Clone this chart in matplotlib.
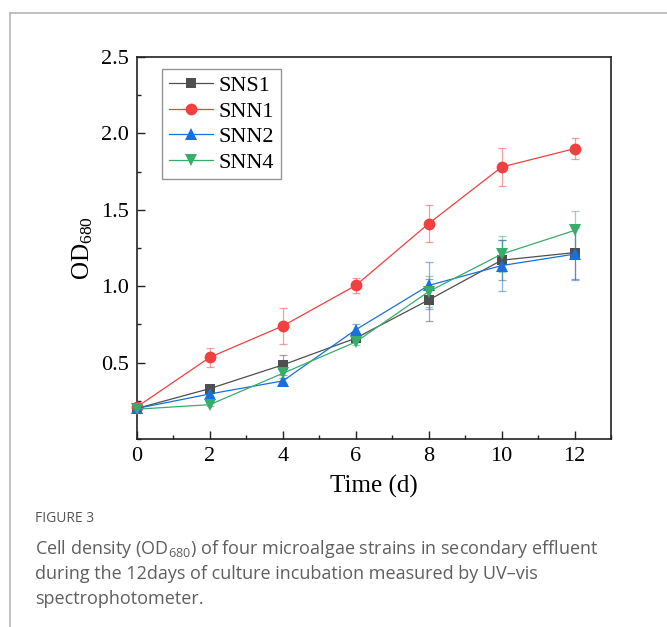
import matplotlib
matplotlib.use("Agg")
import matplotlib.pyplot as plt
from matplotlib.lines import Line2D
from matplotlib.ticker import MultipleLocator

# ---- data ----
days = [0, 2, 4, 6, 8, 10, 12]
series_names = ["SNS1", "SNN1", "SNN2", "SNN4"]
sns1 = [0.20, 0.33, 0.485, 0.66, 0.91, 1.17, 1.22]
sns1_err = [0.01, 0.02, 0.065, 0.02, 0.14, 0.13, 0.17]
snn1 = [0.21, 0.535, 0.74, 1.005, 1.41, 1.78, 1.90]
snn1_err = [0.01, 0.062, 0.116, 0.048, 0.12, 0.123, 0.07]
snn2 = [0.20, 0.295, 0.38, 0.715, 1.005, 1.135, 1.21]
snn2_err = [0.01, 0.02, 0.02, 0.035, 0.155, 0.165, 0.17]
snn4 = [0.195, 0.225, 0.43, 0.635, 0.965, 1.21, 1.365]
snn4_err = [0.01, 0.01, 0.03, 0.02, 0.10, 0.12, 0.125]

x_ticks = [0, 2, 4, 6, 8, 10, 12]
y_ticks = [0.5, 1.0, 1.5, 2.0, 2.5]

colors = ["#4f4f4f", "#f14040", "#1a6fdf", "#37ad6b"]
markers = ["s", "o", "^", "v"]
msizes = [6.5, 8.5, 8, 8]

caption_title = "FIGURE 3"
caption_lines = [
    r"Cell density (OD$\mathregular{_{680}}$) of four microalgae strains in secondary effluent",
    "during the 12days of culture incubation measured by UV\u2013vis",
    "spectrophotometer.",
]

W, H = 667, 627
fig = plt.figure(figsize=(W / 100, H / 100), dpi=100)
serif = "Liberation Serif"

# frame lines of the page
fig.add_artist(Line2D([9.5 / W, 9.5 / W], [0, 1 - 13 / H], transform=fig.transFigure,
                      color="#b5b5b5", lw=1.2))
fig.add_artist(Line2D([9.5 / W, 1], [1 - 13 / H, 1 - 13 / H], transform=fig.transFigure,
                      color="#b5b5b5", lw=1.2))

ax = fig.add_axes([137 / W, 1 - 439 / H, (611 - 137) / W, (439 - 57) / H])

data = [(sns1, sns1_err), (snn1, snn1_err), (snn2, snn2_err), (snn4, snn4_err)]
for (vals, errs), name, c, m, ms in zip(data, series_names, colors, markers, msizes):
    ax.errorbar(days, vals, yerr=errs, color=c, ecolor=c, elinewidth=0.9,
                capsize=3, capthick=0.9, fmt="none", alpha=0.5, zorder=2)
    ax.plot(days, vals, color=c, lw=0.9, marker=m, markersize=ms,
            markeredgewidth=0, label=name, zorder=3, clip_on=False)

ax.set_xlim(0, 13)
ax.set_ylim(0.0, 2.5)
ax.set_xticks(x_ticks)
ax.set_yticks(y_ticks)
ax.xaxis.set_minor_locator(MultipleLocator(1))
ax.yaxis.set_minor_locator(MultipleLocator(0.25))
ax.tick_params(which="both", direction="in", top=False, right=False,
               width=1.0, color="#222222")
ax.tick_params(which="major", length=5.5, labelsize=16, pad=6)
ax.tick_params(which="minor", length=3)
for lbl in ax.get_xticklabels() + ax.get_yticklabels():
    lbl.set_fontfamily(serif)
for s in ax.spines.values():
    s.set_linewidth(1.2)
    s.set_color("#222222")

ax.set_xlabel("Time (d)", fontsize=18, fontfamily=serif, labelpad=6)
ax.set_ylabel(r"$\mathregular{OD_{680}}$", fontsize=18, fontfamily=serif, labelpad=4)

leg = ax.legend(loc="upper left", bbox_to_anchor=(25 / 474, 1 - 12 / 382),
                borderaxespad=0, prop={"family": serif, "size": 16},
                frameon=True, fancybox=False, edgecolor="#7a7a7a",
                handlelength=2.0, handletextpad=0.25, labelspacing=0.22,
                borderpad=0.3)
leg.get_frame().set_linewidth(1.0)

# caption
fig.text(35 / W, 1 - 518 / H, caption_title, fontsize=10, color="#555555",
         fontfamily="Open Sans", va="center", ha="left")
for i, line in enumerate(caption_lines):
    fig.text(35 / W, 1 - (549 + 25 * i) / H, line, fontsize=13, color="#5f5f5f",
             fontfamily="Open Sans", va="center", ha="left")

fig.savefig("out.png", dpi=100)
